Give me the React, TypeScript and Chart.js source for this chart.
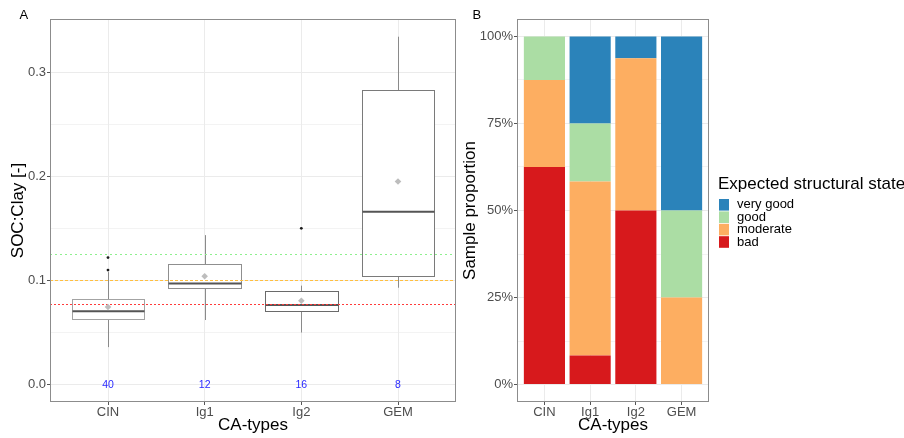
import React, { useEffect, useRef } from 'react';
import { Chart, registerables } from 'chart.js';

Chart.register(...registerables);

// ---------- shared ----------
const categories = ['CIN', 'Ig1', 'Ig2', 'GEM'];
const positions = [1, 2, 3, 4];

// ---------- panel A: SOC:Clay box plots ----------
const boxMin = [0.036, 0.062, 0.05, 0.093];
const boxQ1 = [0.063, 0.093, 0.071, 0.104];
const boxMedian = [0.0705, 0.097, 0.0765, 0.166];
const boxQ3 = [0.082, 0.1155, 0.0895, 0.283];
const boxMax = [0.108, 0.1435, 0.095, 0.334];
const meanValues = [0.0745, 0.104, 0.0805, 0.195];
const outlierCategory = [1, 1, 3];
const outlierValues = [0.11, 0.122, 0.15];
const sampleCounts = [40, 12, 16, 8];
const thresholdValues = [1 / 8, 1 / 10, 1 / 13];
const thresholdColors = ['#8ef08e', '#ffbf40', '#ff3b3b'];
const thresholdDashes = [[2, 3], [3, 2], [2, 2]];
const boxColors = ['#a3a3a3', '#8f8f8f', '#6a6a6a', '#7a7a7a'];
const yTicksA = [0, 0.05, 0.1, 0.15, 0.2, 0.25, 0.3];
const yTickLabelsA = ['0.0', '', '0.1', '', '0.2', '', '0.3'];

// ---------- panel B: stacked proportions ----------
const stateNames = ['bad', 'moderate', 'good', 'very good'];
const stateColors = ['#d7191c', '#fdae61', '#abdda4', '#2b83ba'];
const badShare = [0.625, 0.0833, 0.5, 0];
const moderateShare = [0.25, 0.5, 0.4375, 0.25];
const goodShare = [0.125, 0.1667, 0, 0.25];
const veryGoodShare = [0, 0.25, 0.0625, 0.5];
const yTicksB = [0, 0.125, 0.25, 0.375, 0.5, 0.625, 0.75, 0.875, 1];
const yTickLabelsB = ['0%', '', '25%', '', '50%', '', '75%', '', '100%'];
const legendTitle = 'Expected structural state';

const FONT = '"Liberation Sans", Arial, sans-serif';
const GRID = '#ebebeb';
const TICKTXT = '#4d4d4d';
const TICKMARK = '#555555';

function yScale(min: number, max: number, ticks: number[], labels: string[], title: string, width: number, titlePadTop: number) {
  return {
    type: 'linear',
    min,
    max,
    afterBuildTicks: (s: any) => {
      s.ticks = ticks.map((v) => ({ value: v }));
    },
    afterFit: (s: any) => {
      s.width = width;
    },
    ticks: {
      autoSkip: false,
      padding: 1,
      color: TICKTXT,
      font: { family: FONT, size: 13 },
      callback: (_v: any, i: number) => labels[i],
    },
    grid: {
      color: GRID,
      lineWidth: (c: any) => (labels[c.index] ? 1 : 0.6),
      tickLength: 3,
      tickColor: (c: any) => (labels[c.index] ? TICKMARK : 'rgba(0,0,0,0)'),
    },
    border: { display: false },
    title: {
      display: true,
      text: title,
      color: '#000',
      font: { family: FONT, size: 17 },
      padding: { top: titlePadTop, bottom: 0 },
    },
  };
}

function xScale(stacked: boolean) {
  return {
    type: 'linear',
    min: 0.4,
    max: 4.6,
    offset: false,
    stacked,
    afterBuildTicks: (s: any) => {
      s.ticks = positions.map((v) => ({ value: v }));
    },
    afterFit: (s: any) => {
      s.height = 36;
    },
    ticks: {
      autoSkip: false,
      maxRotation: 0,
      padding: 0,
      color: TICKTXT,
      font: { family: FONT, size: 13 },
      callback: (_v: any, i: number) => categories[i],
    },
    grid: { color: GRID, offset: false, tickLength: 3, tickColor: TICKMARK },
    border: { display: false },
    title: {
      display: true,
      text: 'CA-types',
      color: '#000',
      font: { family: FONT, size: 17 },
      padding: { top: 0, bottom: 2 },
    },
  };
}

function framePlugin(letter: string) {
  return {
    id: 'frame' + letter,
    afterDraw(chart: any) {
      const { ctx, chartArea: a } = chart;
      ctx.save();
      ctx.strokeStyle = '#8c8c8c';
      ctx.lineWidth = 1;
      ctx.strokeRect(Math.round(a.left) + 0.5, Math.round(a.top) + 0.5, Math.round(a.right - a.left) - 1, Math.round(a.bottom - a.top) - 1);
      ctx.fillStyle = '#000';
      ctx.font = `13px ${FONT}`;
      ctx.textBaseline = 'alphabetic';
      ctx.textAlign = 'left';
      ctx.fillText(letter, letter === 'A' ? 19.5 : 12.5, 19);
      ctx.restore();
    },
  };
}

const boxPlugin = {
  id: 'boxes',
  beforeDatasetsDraw(chart: any) {
    const { ctx, chartArea: a } = chart;
    const xs = chart.scales.x;
    const ys = chart.scales.y;
    ctx.save();
    for (let i = 0; i < positions.length; i++) {
      const cx = Math.round(xs.getPixelForValue(positions[i])) + 0.5;
      const left = Math.round(xs.getPixelForValue(positions[i] - 0.375)) + 0.5;
      const right = Math.round(xs.getPixelForValue(positions[i] + 0.375)) + 0.5;
      const yMin = ys.getPixelForValue(boxMin[i]);
      const yQ1 = Math.round(ys.getPixelForValue(boxQ1[i])) + 0.5;
      const yMed = ys.getPixelForValue(boxMedian[i]);
      const yQ3 = Math.round(ys.getPixelForValue(boxQ3[i])) + 0.5;
      const yMax = ys.getPixelForValue(boxMax[i]);
      ctx.strokeStyle = '#8a8a8a';
      ctx.lineWidth = 1;
      ctx.beginPath();
      ctx.moveTo(cx, yQ1);
      ctx.lineTo(cx, yMin);
      ctx.moveTo(cx, yQ3);
      ctx.lineTo(cx, yMax);
      ctx.stroke();
      ctx.fillStyle = '#ffffff';
      ctx.fillRect(left, yQ3, right - left, yQ1 - yQ3);
      ctx.strokeStyle = boxColors[i];
      ctx.strokeRect(left, yQ3, right - left, yQ1 - yQ3);
      ctx.strokeStyle = '#555555';
      ctx.lineWidth = 2;
      ctx.beginPath();
      ctx.moveTo(left, yMed);
      ctx.lineTo(right, yMed);
      ctx.stroke();
    }
    ctx.beginPath();
    ctx.rect(a.left, a.top, a.right - a.left, a.bottom - a.top);
    ctx.clip();
    for (let t = 0; t < thresholdValues.length; t++) {
      const y = Math.round(ys.getPixelForValue(thresholdValues[t])) + 0.5;
      ctx.strokeStyle = thresholdColors[t];
      ctx.lineWidth = 1;
      ctx.setLineDash(thresholdDashes[t]);
      ctx.beginPath();
      ctx.moveTo(a.left, y);
      ctx.lineTo(a.right, y);
      ctx.stroke();
    }
    ctx.restore();
  },
  afterDatasetsDraw(chart: any) {
    const { ctx } = chart;
    const xs = chart.scales.x;
    const ys = chart.scales.y;
    ctx.save();
    ctx.fillStyle = '#2a2aff';
    ctx.font = `10.5px ${FONT}`;
    ctx.textAlign = 'center';
    ctx.textBaseline = 'middle';
    for (let i = 0; i < positions.length; i++) {
      ctx.fillText(String(sampleCounts[i]), xs.getPixelForValue(positions[i]), ys.getPixelForValue(0) + 0.5);
    }
    ctx.restore();
  },
};

const legendPlugin = {
  id: 'stateLegend',
  afterDraw(chart: any) {
    const { ctx } = chart;
    const a = chart.chartArea;
    const x0 = a.right + 10;
    ctx.save();
    ctx.fillStyle = '#000';
    ctx.font = `17px ${FONT}`;
    ctx.textAlign = 'left';
    ctx.textBaseline = 'alphabetic';
    ctx.fillText(legendTitle, x0 - 1, 188.5);
    const items = chart.data.datasets.slice().reverse();
    items.forEach((ds: any, i: number) => {
      const top = 199 + i * 12.4;
      ctx.fillStyle = ds.backgroundColor;
      ctx.fillRect(x0, top, 10, 11.6);
      ctx.fillStyle = '#000';
      ctx.font = `13px ${FONT}`;
      ctx.fillText(ds.label, x0 + 18, top + 9.4);
    });
    ctx.restore();
  },
};

function PanelA() {
  const ref = useRef<HTMLCanvasElement>(null);
  useEffect(() => {
    const chart = new Chart(ref.current as HTMLCanvasElement, {
      type: 'scatter',
      data: {
        datasets: [
          {
            label: 'mean',
            data: positions.map((p, i) => ({ x: p, y: meanValues[i] })),
            pointStyle: 'rectRot',
            pointRadius: 3.3,
            backgroundColor: '#bdbdbd',
            borderWidth: 0,
          },
          {
            label: 'outliers',
            data: outlierCategory.map((c, i) => ({ x: c, y: outlierValues[i] })),
            pointStyle: 'circle',
            pointRadius: 1.4,
            backgroundColor: '#1a1a1a',
            borderWidth: 0,
          },
        ],
      },
      options: {
        animation: false,
        responsive: false,
        layout: { padding: { top: 19, right: 4, left: 0, bottom: 0 } },
        scales: {
          x: xScale(false) as any,
          y: yScale(-0.0167, 0.351, yTicksA, yTickLabelsA, 'SOC:Clay [-]', 50, 8) as any,
        },
        plugins: { legend: { display: false }, tooltip: { enabled: false } },
      },
      plugins: [boxPlugin, framePlugin('A')],
    });
    return () => chart.destroy();
  }, []);
  return <canvas ref={ref} width={460} height={438} style={{ position: 'absolute', left: 0, top: 0, display: 'block' }} />;
}

function PanelB() {
  const ref = useRef<HTMLCanvasElement>(null);
  useEffect(() => {
    const shares = [badShare, moderateShare, goodShare, veryGoodShare];
    const chart = new Chart(ref.current as HTMLCanvasElement, {
      type: 'bar',
      data: {
        datasets: stateNames.map((name, s) => ({
          label: name,
          data: positions.map((p, i) => ({ x: p, y: shares[s][i] })),
          backgroundColor: stateColors[s],
          borderWidth: 0,
          categoryPercentage: 1,
          barPercentage: 0.9,
        })),
      },
      options: {
        animation: false,
        responsive: false,
        layout: { padding: { top: 19, right: 195, left: 0, bottom: 0 } },
        scales: {
          x: xScale(true) as any,
          y: { ...(yScale(-0.05, 1.05, yTicksB, yTickLabelsB, 'Sample proportion', 57, 0) as any), stacked: true },
        },
        plugins: { legend: { display: false }, tooltip: { enabled: false } },
      },
      plugins: [legendPlugin, framePlugin('B')],
    });
    return () => chart.destroy();
  }, []);
  return <canvas ref={ref} width={444} height={438} style={{ position: 'absolute', left: 460, top: 0, display: 'block' }} />;
}

export default function App() {
  return (
    <div style={{ position: 'fixed', left: 0, top: 0, width: 904, height: 438, background: '#fff', overflow: 'hidden' }}>
      <PanelA />
      <PanelB />
    </div>
  );
}
